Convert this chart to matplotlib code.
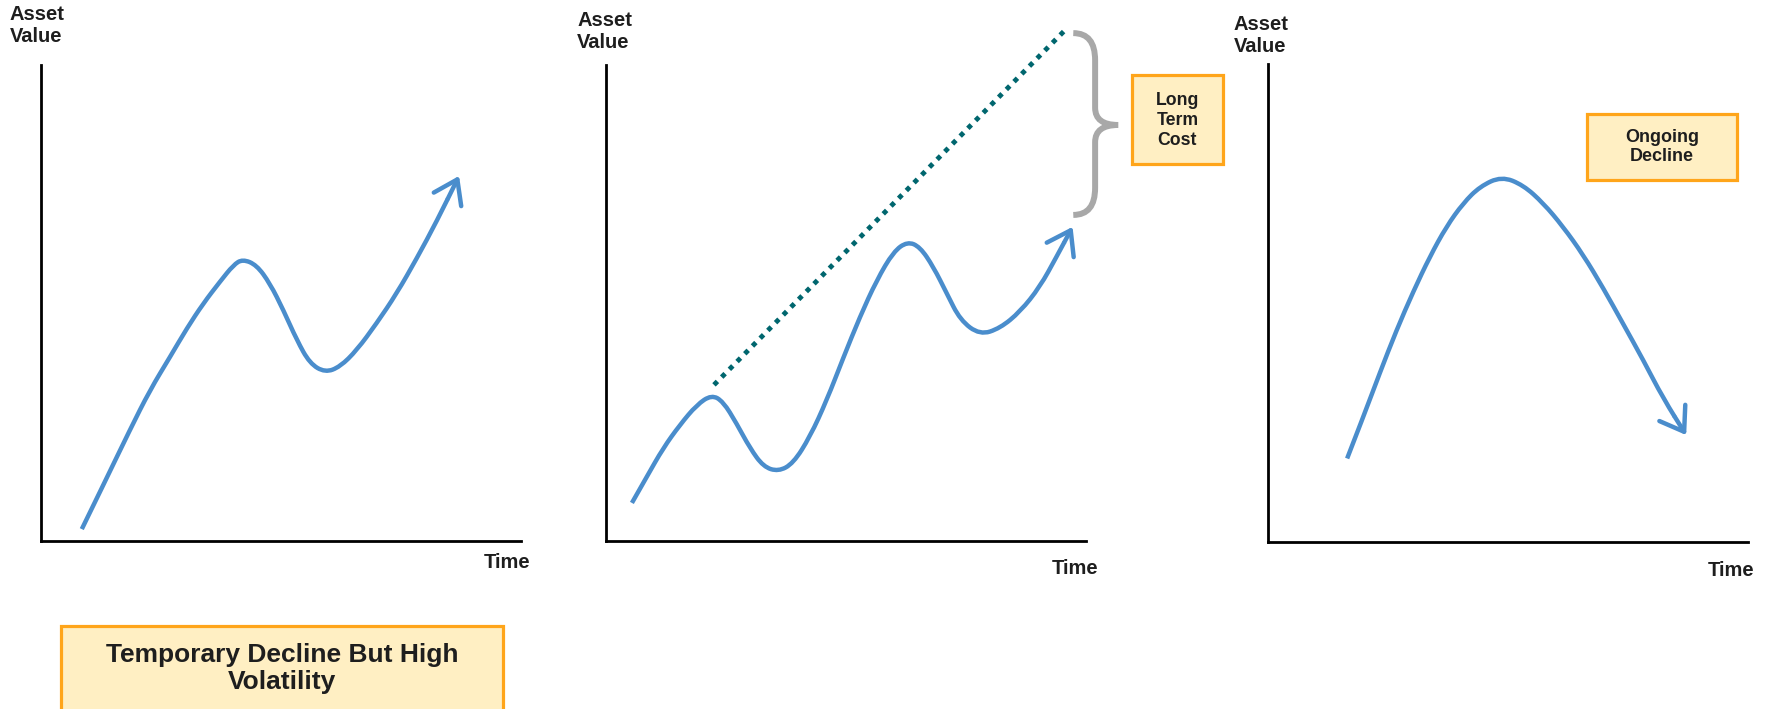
import matplotlib
matplotlib.use("Agg")
import matplotlib.pyplot as plt
from matplotlib.patches import Rectangle, PathPatch
from matplotlib.path import Path

plt.rcParams['font.family'] = ['Liberation Sans', 'DejaVu Sans']

# panel 1: temporary decline, then recovery
p1_time = [8.5, 13.0, 18.5, 22.7, 26.9, 30.4, 33.8, 37.3, 40.1, 42.0, 44.9, 47.7,
           50.5, 53.3, 56.0, 59.2, 62.3, 65.8, 69.9, 74.1, 78.3, 82.4, 87.1]
p1_value = [2.5, 11.8, 23.3, 31.7, 38.7, 44.7, 49.9, 54.5, 58.0, 59.2, 58.0, 54.1,
            48.5, 42.2, 37.3, 35.4, 36.6, 40.1, 45.7, 52.0, 59.4, 67.1, 76.7]

# panel 2: volatile growth vs. smooth trend
p2_time = [5.4, 8.5, 11.9, 15.4, 18.9, 22.0, 24.4, 27.2, 30.0, 32.8, 35.9, 39.0,
           42.5, 46.0, 49.4, 52.9, 56.4, 59.9, 62.8, 65.4, 68.2, 71.0, 73.8, 77.9,
           82.1, 86.3, 90.4, 93.8, 97.2]
p2_value = [8.0, 13.5, 19.5, 24.4, 28.6, 30.7, 29.3, 24.7, 19.5, 15.6, 14.6, 16.3,
            21.9, 29.6, 38.4, 47.1, 54.8, 60.8, 62.9, 61.8, 57.6, 52.0, 46.4, 43.3,
            44.7, 48.2, 53.4, 59.6, 66.0]
trend_time = [22.5, 96.1]
trend_value = [32.8, 107.8]

# panel 3: rise then ongoing decline
p3_time = [16.5, 19.9, 23.3, 26.8, 30.3, 33.75, 37.2, 40.7, 44.2, 48.7, 53.2, 57.4,
           61.5, 65.7, 69.9, 74.0, 78.2, 82.4, 87.2]
p3_value = [17.4, 26.2, 35.3, 44.3, 52.4, 59.7, 66.0, 70.9, 74.4, 76.5, 74.7, 70.9,
            66.0, 60.1, 53.1, 45.7, 38.1, 30.0, 22.3]

box_labels = ["Temporary Decline But High\nVolatility", "Long\nTerm\nCost", "Ongoing\nDecline"]

W, H = 1771, 709
BLUE = '#4A8DCC'
TEXT = '#1E1E1E'
BOX_FILL = '#FFEFC3'
BOX_EDGE = '#FFA51A'

fig = plt.figure(figsize=(W / 100, H / 100), dpi=100)


def frac(x, y):
    return x / W, (H - y) / H


def make_axes(x0, y_top, w, h):
    ax = fig.add_axes([x0 / W, (H - y_top - h) / H, w / W, h / H])
    ax.set_xlim(0, 100)
    ax.set_ylim(0, 100)
    for s in ['top', 'right']:
        ax.spines[s].set_visible(False)
    for s in ['left', 'bottom']:
        ax.spines[s].set_linewidth(2)
        ax.spines[s].set_color('black')
    ax.set_xticks([])
    ax.set_yticks([])
    ax.patch.set_alpha(0)
    return ax


def curve(ax, t, v):
    # smooth quadratic path through the read points, arrow on the last step
    pts = list(zip(t, v))
    verts = [pts[0]]
    codes = [Path.MOVETO]
    for i in range(1, len(pts) - 1):
        mid = ((pts[i][0] + pts[i + 1][0]) / 2, (pts[i][1] + pts[i + 1][1]) / 2)
        verts += [pts[i], mid]
        codes += [Path.CURVE3, Path.CURVE3]
    ax.add_patch(PathPatch(Path(verts, codes), fill=False, edgecolor=BLUE, lw=3.2,
                           capstyle='butt', joinstyle='round', clip_on=False))
    ax.annotate('', xy=pts[-1], xytext=verts[-1],
                arrowprops=dict(arrowstyle='->,head_length=0.8,head_width=0.55',
                                color=BLUE, lw=3.2, mutation_scale=20,
                                shrinkA=0, shrinkB=0),
                annotation_clip=False)


ax1 = make_axes(41, 65, 480, 476)
ax2 = make_axes(606, 65, 480, 476)
ax3 = make_axes(1268, 64.3, 479.6, 477.2)

curve(ax1, p1_time, p1_value)
curve(ax2, p2_time, p2_value)
curve(ax3, p3_time, p3_value)

ax2.plot(trend_time, trend_value, color='#00666E', lw=3.5,
         linestyle=(0, (1, 1.25)), dash_capstyle='butt', clip_on=False)

# curly brace showing the gap
bx, tip = 101.9, 106.7
verts = [(97.35, 106.7), (bx, 106.7), (bx, 101.0), (bx, 91.0), (bx, 87.4), (tip, 87.4),
         (bx, 87.4), (bx, 83.8), (bx, 74.2), (bx, 68.5), (97.35, 68.5)]
codes = [Path.MOVETO, Path.CURVE3, Path.CURVE3, Path.LINETO, Path.CURVE3, Path.CURVE3,
         Path.CURVE3, Path.CURVE3, Path.LINETO, Path.CURVE3, Path.CURVE3]
ax2.add_patch(PathPatch(Path(verts, codes), fill=False, edgecolor='#A8A8A8', lw=4.3,
                        capstyle='butt', clip_on=False))

# axis labels
for x, y in [(9.6, 26), (577, 31.5), (1234, 35)]:
    fig.text(*frac(x, y), "Asset\nValue", ha='left', va='center', fontsize=14.5,
             fontweight='bold', color=TEXT, linespacing=1.2)
for x, y in [(530, 562), (1098, 568), (1754.5, 571)]:
    fig.text(*frac(x, y), "Time", ha='right', va='center', fontsize=14.5,
             fontweight='bold', color=TEXT)

# annotation boxes
boxes = [(61, 625.5, 441.5, 110), (1132, 75, 90.7, 89), (1587, 114, 149.6, 66)]
for x, y, w, h in boxes:
    fig.add_artist(Rectangle(frac(x, y + h), w / W, h / H, transform=fig.transFigure,
                             facecolor=BOX_FILL, edgecolor=BOX_EDGE, lw=2.3))
cx, cy = frac(281.8, 668.2)
fig.text(cx, cy, box_labels[0], ha='center', va='center', fontsize=19,
         fontweight='bold', color=TEXT, linespacing=1.15)
cx, cy = frac(1177.4, 120.5)
fig.text(cx, cy, box_labels[1], ha='center', va='center', fontsize=12.7,
         fontweight='bold', color=TEXT, linespacing=1.2)
cx, cy = frac(1661.8, 147.3)
fig.text(cx, cy, box_labels[2], ha='center', va='center', fontsize=13,
         fontweight='bold', color=TEXT, linespacing=1.15)

fig.savefig("out.png", dpi=100, facecolor='white')
